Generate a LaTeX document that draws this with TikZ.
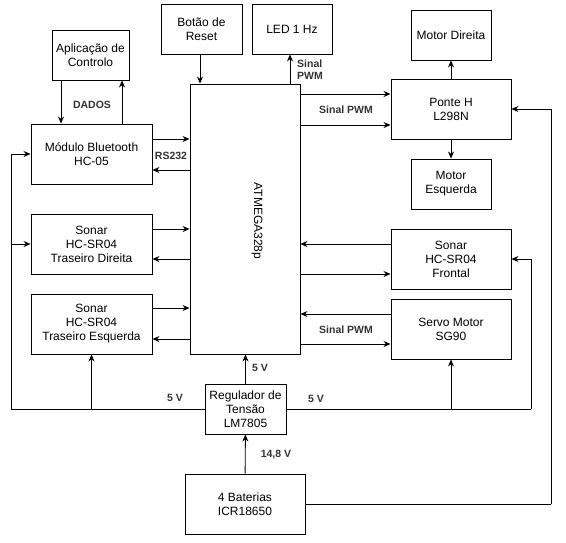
\documentclass[tikz,border=0pt]{standalone}
\usepackage{fontspec}
\setmainfont{Liberation Sans}
\usepackage{tikz}
\usetikzlibrary{arrows.meta,positioning,calc}
\definecolor{labelgray}{RGB}{51,51,51}

\begin{document}
\begin{tikzpicture}[
    x=1pt, y=-1pt,
    block/.style={rectangle, draw=black, fill=white, line width=0.9pt, align=center, inner sep=0pt, font=\fontsize{12}{14}\selectfont},
    wire/.style={line width=0.9pt},
    sig/.style={line width=0.9pt, -{Stealth[length=7pt,width=6pt]}},
    lbl/.style={font=\fontsize{10.5}{12.5}\selectfont\bfseries, text=labelgray, inner sep=0pt, align=left}
]
\useasboundingbox (0,0) rectangle (566,542);

% Top row
\node[block, minimum width=77, minimum height=50] (app) at (90.5, 55) {Aplicação de\\Controlo};
\node[block, minimum width=81, minimum height=50] (reset) at (201.5, 29) {Botão de\\Reset};
\node[block, minimum width=80, minimum height=50] (led) at (292, 29) {LED 1 Hz};
\node[block, minimum width=80, minimum height=50] (motd) at (451, 35) {Motor Direita};

% Microcontroller
\node[block, minimum width=110, minimum height=270] (mcu) at (245, 219) {};
\node[font=\fontsize{12}{14}\selectfont, rotate=-90] (mcutxt) at (257, 221) {ATMEGA328p};

% Left column
\node[block, minimum width=121, minimum height=60] (bt) at (91.5, 154) {Módulo Bluetooth\\HC-05};
\node[block, minimum width=121, minimum height=60] (sontd) at (91.5, 244) {Sonar\\HC-SR04\\Traseiro Direita};
\node[block, minimum width=121, minimum height=60] (sonte) at (91.5, 324) {Sonar\\HC-SR04\\Traseiro Esquerda};

% Right column
\node[block, minimum width=120, minimum height=60] (ponte) at (451, 109) {Ponte H\\L298N};
\node[block, minimum width=80, minimum height=50] (mote) at (451, 184) {Motor\\Esquerda};
\node[block, minimum width=120, minimum height=60] (sonf) at (451, 259) {Sonar\\HC-SR04\\Frontal};
\node[block, minimum width=120, minimum height=60] (servo) at (451, 329) {Servo Motor\\SG90};

% Power
\node[block, minimum width=81, minimum height=50] (reg) at (245.5, 409) {Regulador de\\Tensão\\LM7805};
\node[block, minimum width=120, minimum height=60] (bat) at (245, 504) {4 Baterias\\ICR18650};

% Rail corners
\coordinate (lrail) at (11, 409);
\coordinate (rrail) at (531, 409);
\coordinate (brail) at (551, 504);

% Bluetooth link
\draw[sig] (app.south -| 61,0) -- (bt.north -| 61,0);
\draw[sig] (bt.north -| 122,0) -- (app.south -| 122,0);
\node[lbl] (dados) at (92, 105) {DADOS};
\draw[sig] (bt.east |- 0,139) -- (mcu.west |- 0,139);
\draw[sig] (mcu.west |- 0,170) -- (bt.east |- 0,170);
\node[lbl] (rs) at (171, 156) {RS232};

% Reset and LED
\draw[sig] (reset.south -| 200,0) -- (mcu.north -| 200,0);
\draw[sig] (mcu.north -| 290,0) -- (led.south -| 290,0);
\node[lbl, anchor=west] (ledlbl) at (297, 69.5) {Sinal\\PWM};

% Sonars on the left
\draw[sig] (sontd.east |- 0,229) -- (mcu.west |- 0,229);
\draw[sig] (mcu.west |- 0,259) -- (sontd.east |- 0,259);
\draw[sig] (sonte.east |- 0,308) -- (mcu.west |- 0,308);
\draw[sig] (mcu.west |- 0,339) -- (sonte.east |- 0,339);

% H bridge and motors
\draw[sig] (mcu.east |- 0,94) -- (ponte.west |- 0,94);
\draw[sig] (mcu.east |- 0,125) -- (ponte.west |- 0,125);
\node[lbl] (pwm1) at (346, 110) {Sinal PWM};
\draw[sig] (ponte) -- (motd);
\draw[sig] (ponte) -- (mote);

% Front sonar and servo
\draw[sig] (sonf.west |- 0,244) -- (mcu.east |- 0,244);
\draw[sig] (mcu.east |- 0,274) -- (sonf.west |- 0,274);
\draw[sig] (servo.west |- 0,314) -- (mcu.east |- 0,314);
\draw[sig] (mcu.east |- 0,344) -- (servo.west |- 0,344);
\node[lbl] (pwm2) at (346, 330) {Sinal PWM};

% 5 V supply
\draw[sig] (reg) -- (mcu.south -| reg);
\node[lbl] (v5a) at (260, 368) {5 V};
\draw[wire] (reg.west) -- (lrail);
\draw[sig] (lrail) |- (bt.west);
\draw[sig] (lrail |- sontd.west) -- (sontd.west);
\draw[sig] (lrail -| sonte.south) -- (sonte.south);
\node[lbl] (v5b) at (175, 398) {5 V};
\draw[wire] (reg.east) -- (rrail);
\draw[sig] (rrail) |- (sonf.east);
\draw[sig] (rrail -| servo.south) -- (servo.south);
\node[lbl] (v5c) at (316, 399) {5 V};

% Battery
\draw[sig] (bat) -- (reg);
\node[lbl] (v14) at (276, 455) {14,8 V};
\draw[wire] (bat.east) -- (brail);
\draw[sig] (brail) |- (ponte.east);

\end{tikzpicture}
\end{document}
